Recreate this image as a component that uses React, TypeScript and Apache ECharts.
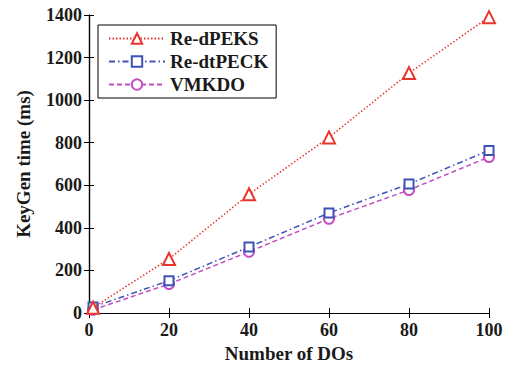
import React, { useEffect, useRef } from "react";
import * as echarts from "echarts";

const xValues = [1, 20, 40, 60, 80, 100];
const reDPEKS = [25, 254, 558, 825, 1127, 1390];
const reDtPECK = [28, 152, 310, 470, 606, 764];
const vmkdo = [15, 136, 288, 443, 578, 733];
const seriesNames = ["Re-dPEKS", "Re-dtPECK", "VMKDO"];

const FONT = "'Liberation Serif', 'Times New Roman', serif";
const TXT = "#1a1a1a";

export default function App() {
  const ref = useRef<HTMLDivElement>(null);
  useEffect(() => {
    document.body.style.margin = "0";
    if (!ref.current) return;
    const chart = echarts.init(ref.current, undefined, { renderer: "svg" });
    const pair = (ys: number[]) => xValues.map((x, i) => [x, ys[i]]);
    const axisCommon = {
      axisLine: { show: true, lineStyle: { color: "#000", width: 1.2 } },
      axisTick: { show: true, inside: true, length: 5, lineStyle: { color: "#000" } },
      splitLine: { show: false },
    };
    const labelStyle = { fontFamily: FONT, fontWeight: "bold", fontSize: 18, color: TXT };
    const nameStyle = { fontFamily: FONT, fontWeight: "bold", fontSize: 19, color: TXT };
    chart.setOption({
      animation: false,
      backgroundColor: "#fff",
      grid: { left: 89, right: 26, top: 15, bottom: 52 },
      legend: {
        orient: "vertical",
        left: 98,
        top: 25,
        padding: [4, 8, 4, 10],
        itemGap: 4,
        itemWidth: 56,
        itemHeight: 13,
        borderColor: "#000",
        borderWidth: 1,
        borderRadius: 0,
        backgroundColor: "#fff",
        textStyle: { ...nameStyle, fontSize: 19 },
        data: seriesNames,
      },
      xAxis: [
        {
          type: "value",
          min: 0,
          max: 100,
          interval: 20,
          name: "Number of DOs",
          nameLocation: "middle",
          nameGap: 31,
          nameTextStyle: nameStyle,
          axisLabel: { ...labelStyle, margin: 8 },
          ...axisCommon,
        },
        {
          type: "value",
          position: "top",
          min: 0,
          max: 100,
          interval: 20,
          axisLabel: { show: false },
          ...axisCommon,
        },
      ],
      yAxis: [
        {
          type: "value",
          min: 0,
          max: 1400,
          interval: 200,
          name: "KeyGen time (ms)",
          nameLocation: "middle",
          nameGap: 56,
          nameTextStyle: nameStyle,
          axisLabel: { ...labelStyle, margin: 7, formatter: (v: number) => String(v) },
          ...axisCommon,
        },
        {
          type: "value",
          position: "right",
          min: 0,
          max: 1400,
          interval: 200,
          axisLabel: { show: false },
          ...axisCommon,
        },
      ],
      series: [
        {
          name: seriesNames[0],
          type: "line",
          data: pair(reDPEKS),
          symbol: "emptyTriangle",
          symbolSize: 12,
          itemStyle: { color: "#e8352b", borderWidth: 1.5 },
          lineStyle: { color: "#e8352b", width: 1.5, type: [1.5, 2] },
          z: 3,
        },
        {
          name: seriesNames[1],
          type: "line",
          data: pair(reDtPECK),
          symbol: "emptyRect",
          symbolSize: 9,
          itemStyle: { color: "#3f52b6", borderWidth: 1.5 },
          lineStyle: { color: "#3f52b6", width: 1.5, type: [6, 3, 1.5, 3] },
          z: 2,
        },
        {
          name: seriesNames[2],
          type: "line",
          data: pair(vmkdo),
          symbol: "emptyCircle",
          symbolSize: 10,
          itemStyle: { color: "#c24fc4", borderWidth: 1.5 },
          lineStyle: { color: "#c24fc4", width: 1.5, type: [5, 3] },
          z: 1,
        },
      ],
    });
    return () => chart.dispose();
  }, []);
  return <div ref={ref} style={{ width: 515, height: 368 }} />;
}
